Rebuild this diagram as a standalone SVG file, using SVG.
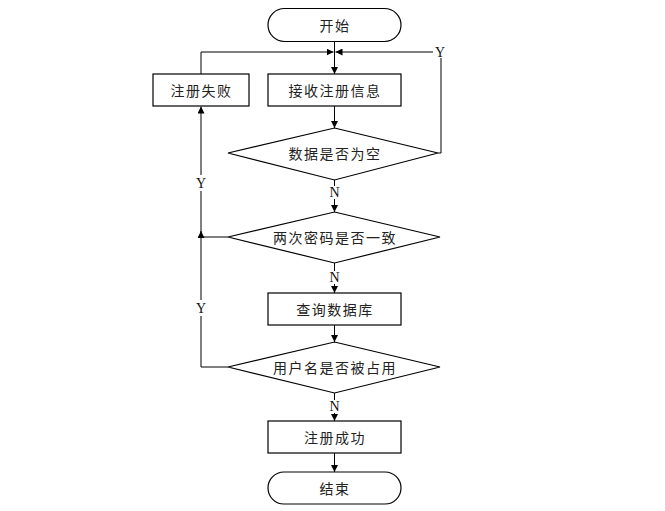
<svg xmlns="http://www.w3.org/2000/svg" width="665" height="511" viewBox="0 0 665 511">
<style>
.shape{fill:#fff;stroke:#000;stroke-width:1.2}
.lbl{font-family:"Noto Sans CJK SC","Noto Sans CJK JP",sans-serif;font-size:14px;fill:#222;text-anchor:middle;dominant-baseline:central;letter-spacing:1.5px}
.yn{font-family:"Liberation Serif",serif;font-size:14px;fill:#111;text-anchor:middle;dominant-baseline:central}
.ln{fill:none;stroke:#000;stroke-width:1}
</style>
<defs>
<marker id="ah" viewBox="0 0 10 10" refX="10" refY="5" markerWidth="7" markerHeight="7" markerUnits="userSpaceOnUse" orient="auto"><path d="M0,0 L10,5 L0,10 z" fill="#000"/></marker>
</defs>
<rect width="665" height="511" fill="#fff"/>
<g id="connectors">
<path class="ln" d="M334.5,42 V74" marker-end="url(#ah)"/>
<path class="ln" d="M201,74 V52 H333.5" marker-end="url(#ah)"/>
<path class="ln" d="M438,153 H441 V52 H335.5" marker-end="url(#ah)"/>
<path class="ln" d="M334.5,106 V128" marker-end="url(#ah)"/>
<path class="ln" d="M334.5,180 V212" marker-end="url(#ah)"/>
<path class="ln" d="M228,237 H201 V106.5" marker-end="url(#ah)"/>
<path class="ln" d="M228,367 H201 V231" marker-end="url(#ah)"/>
<path class="ln" d="M334.5,263 V293" marker-end="url(#ah)"/>
<path class="ln" d="M334.5,325 V342" marker-end="url(#ah)"/>
<path class="ln" d="M334.5,393 V421" marker-end="url(#ah)"/>
<path class="ln" d="M334.5,453 V472" marker-end="url(#ah)"/>
<rect x="433" y="45" width="15" height="13" fill="#fff"/>
<text class="yn" x="440" y="52">Y</text>
<rect x="194" y="175" width="14" height="16" fill="#fff"/>
<text class="yn" x="201" y="183">Y</text>
<rect x="194" y="300" width="14" height="16" fill="#fff"/>
<text class="yn" x="201" y="308">Y</text>
<rect x="327" y="186" width="15" height="13" fill="#fff"/>
<text class="yn" x="334.5" y="192">N</text>
<rect x="327" y="271" width="15" height="13" fill="#fff"/>
<text class="yn" x="334.5" y="277">N</text>
<rect x="327" y="400" width="15" height="13" fill="#fff"/>
<text class="yn" x="334.5" y="406">N</text>
</g>
<g id="start">
<rect class="shape" x="268" y="8.5" width="133" height="33" rx="16.5" ry="16.5"/>
<text class="lbl" x="335" y="25">开始</text>
</g>
<g id="fail">
<rect class="shape" x="153" y="74" width="96" height="32"/>
<text class="lbl" x="201.5" y="90">注册失败</text>
</g>
<g id="receive">
<rect class="shape" x="268" y="74" width="133" height="32"/>
<text class="lbl" x="335" y="90">接收注册信息</text>
</g>
<g id="empty">
<polygon class="shape" points="334.5,128 438,153 334.5,180 228,153"/>
<text class="lbl" x="335" y="153">数据是否为空</text>
</g>
<g id="pwd">
<polygon class="shape" points="334.5,212 440,237 334.5,263 228,237"/>
<text class="lbl" x="335" y="237">两次密码是否一致</text>
</g>
<g id="query">
<rect class="shape" x="268" y="293" width="133" height="32"/>
<text class="lbl" x="335" y="309">查询数据库</text>
</g>
<g id="taken">
<polygon class="shape" points="334.5,342 440,367 334.5,393 228,367"/>
<text class="lbl" x="335" y="367">用户名是否被占用</text>
</g>
<g id="success">
<rect class="shape" x="268" y="421" width="133" height="32"/>
<text class="lbl" x="335" y="437">注册成功</text>
</g>
<g id="end">
<rect class="shape" x="268" y="472" width="133" height="32" rx="16" ry="16"/>
<text class="lbl" x="335" y="488">结束</text>
</g>
</svg>
